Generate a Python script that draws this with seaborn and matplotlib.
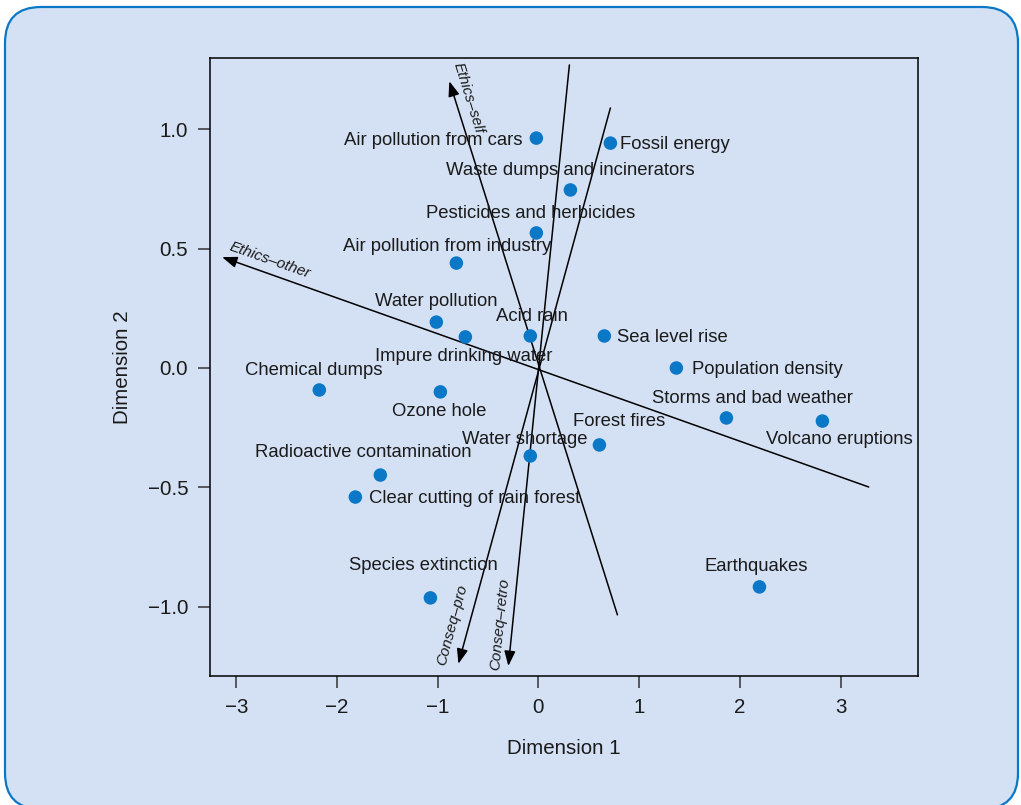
import numpy as np
import matplotlib
matplotlib.use("Agg")
import matplotlib.pyplot as plt
import matplotlib.transforms as mtransforms
from matplotlib.patches import FancyBboxPatch
import seaborn as sns
import pandas as pd

# environmental issues placed on the two dimensions
issues = [
    "Air pollution from cars", "Fossil energy", "Waste dumps and incinerators",
    "Pesticides and herbicides", "Air pollution from industry", "Water pollution",
    "Impure drinking water", "Acid rain", "Sea level rise", "Population density",
    "Chemical dumps", "Ozone hole", "Storms and bad weather", "Volcano eruptions",
    "Forest fires", "Water shortage", "Radioactive contamination",
    "Clear cutting of rain forest", "Species extinction", "Earthquakes",
]
dim1 = [-0.02, 0.715, 0.318, -0.02, -0.814, -1.013, -0.725, -0.08, 0.655, 1.37,
        -2.175, -0.973, 1.867, 2.82, 0.606, -0.08, -1.569, -1.817, -1.072, 2.195]
dim2 = [0.962, 0.941, 0.745, 0.565, 0.439, 0.192, 0.130, 0.134, 0.134, 0.0,
        -0.092, -0.100, -0.209, -0.222, -0.322, -0.368, -0.448, -0.540, -0.962, -0.916]

# fitted property vectors (arrow tip and opposite end)
vec_names = ["Ethics\u2013other", "Ethics\u2013self", "Conseq\u2013pro", "Conseq\u2013retro"]
vec_tip_x = [-3.14, -0.884, -0.794, -0.298]
vec_tip_y = [0.464, 1.20, -1.238, -1.247]
vec_end_x = [3.28, 0.785, 0.715, 0.308]
vec_end_y = [-0.498, -1.033, 1.088, 1.268]

x_ticks = [-3, -2, -1, 0, 1, 2, 3]
y_ticks = [-1.0, -0.5, 0.0, 0.5, 1.0]

# label placement: (dx, dy) in points, horizontal alignment
label_style = {
    "Air pollution from cars": (-10, -2, "right"),
    "Fossil energy": (7, -1, "left"),
    "Waste dumps and incinerators": (0, 14, "center"),
    "Pesticides and herbicides": (-4, 14, "center"),
    "Air pollution from industry": (-7, 12, "center"),
    "Water pollution": (0, 15, "center"),
    "Impure drinking water": (-1, -14, "center"),
    "Acid rain": (1, 14, "center"),
    "Sea level rise": (9, -1, "left"),
    "Population density": (11, -1, "left"),
    "Chemical dumps": (-4, 14, "center"),
    "Ozone hole": (-1, -14, "center"),
    "Storms and bad weather": (19, 14, "center"),
    "Volcano eruptions": (12, -13, "center"),
    "Forest fires": (14, 17, "center"),
    "Water shortage": (-4, 12, "center"),
    "Radioactive contamination": (-12, 16, "center"),
    "Clear cutting of rain forest": (10, -1, "left"),
    "Species extinction": (-5, 23, "center"),
    "Earthquakes": (-2, 15, "center"),
}
# vector label: fraction along the arrow, offset in points
vec_label_style = [(0.85, 0, 10), (0.94, 10, 0), (0.87, -12, 0), (0.86, -9, 0)]

BG = "#d4e1f4"
BLUE = "#0a78c6"
INK = "#1a1a1a"

sns.set_theme(style="ticks")
plt.rcParams["font.family"] = ["Liberation Sans", "DejaVu Sans"]

fig = plt.figure(figsize=(10.21, 8.05), dpi=100, facecolor="white")
frame = FancyBboxPatch((5, -4), 1013, 802, boxstyle="round,pad=0,rounding_size=36",
                       transform=mtransforms.IdentityTransform(),
                       facecolor=BG, edgecolor=BLUE, linewidth=1.6, zorder=-10)
fig.patches.append(frame)

ax = fig.add_axes([0.2057, 0.1602, 0.6935, 0.7677])
ax.set_zorder(1)
ax.set_facecolor(BG)
ax.set_xlim(-3.26, 3.77)
ax.set_ylim(-1.289, 1.297)

df = pd.DataFrame({"issue": issues, "Dimension 1": dim1, "Dimension 2": dim2})
sns.scatterplot(data=df, x="Dimension 1", y="Dimension 2", ax=ax, s=95,
                color=BLUE, edgecolor="none", zorder=3)

for name, x, y in zip(issues, dim1, dim2):
    dx, dy, ha = label_style[name]
    ax.annotate(name, (x, y), xytext=(dx, dy), textcoords="offset points",
                ha=ha, va="center", fontsize=13.3, color=INK, zorder=4)

p0 = ax.transData.transform((0, 0))
for i, name in enumerate(vec_names):
    tip = (vec_tip_x[i], vec_tip_y[i])
    end = (vec_end_x[i], vec_end_y[i])
    ax.annotate("", xy=tip, xytext=end,
                arrowprops=dict(arrowstyle="-|>,head_length=0.75,head_width=0.28",
                                color="black", lw=1.1, shrinkA=0, shrinkB=0),
                zorder=2)
    p1 = ax.transData.transform(tip)
    ang = np.degrees(np.arctan2(p1[1] - p0[1], p1[0] - p0[0]))
    if ang > 90:
        ang -= 180
    elif ang < -90:
        ang += 180
    frac, ox, oy = vec_label_style[i]
    ax.annotate(name, (tip[0] * frac, tip[1] * frac), xytext=(ox, oy),
                textcoords="offset points", rotation=ang, rotation_mode="anchor",
                ha="center", va="center", fontsize=11, fontstyle="italic",
                color=INK, zorder=4)

ax.set_xticks(x_ticks)
ax.set_xticklabels([f"{t:g}".replace("-", "\u2212") for t in x_ticks])
ax.set_yticks(y_ticks)
ax.set_yticklabels([f"{t:.1f}".replace("-", "\u2212") for t in y_ticks])
ax.tick_params(axis="both", direction="out", length=8.6, width=1.1,
               color="#333333", labelsize=14.8, labelcolor=INK, pad=7)
for sp in ax.spines.values():
    sp.set_visible(True)
    sp.set_color("black")
    sp.set_linewidth(1.1)
ax.set_xlabel("Dimension 1", fontsize=14.8, color=INK, labelpad=16)
ax.set_ylabel("Dimension 2", fontsize=14.8, color=INK, labelpad=11)

fig.savefig("out.png", dpi=100, facecolor="white")
